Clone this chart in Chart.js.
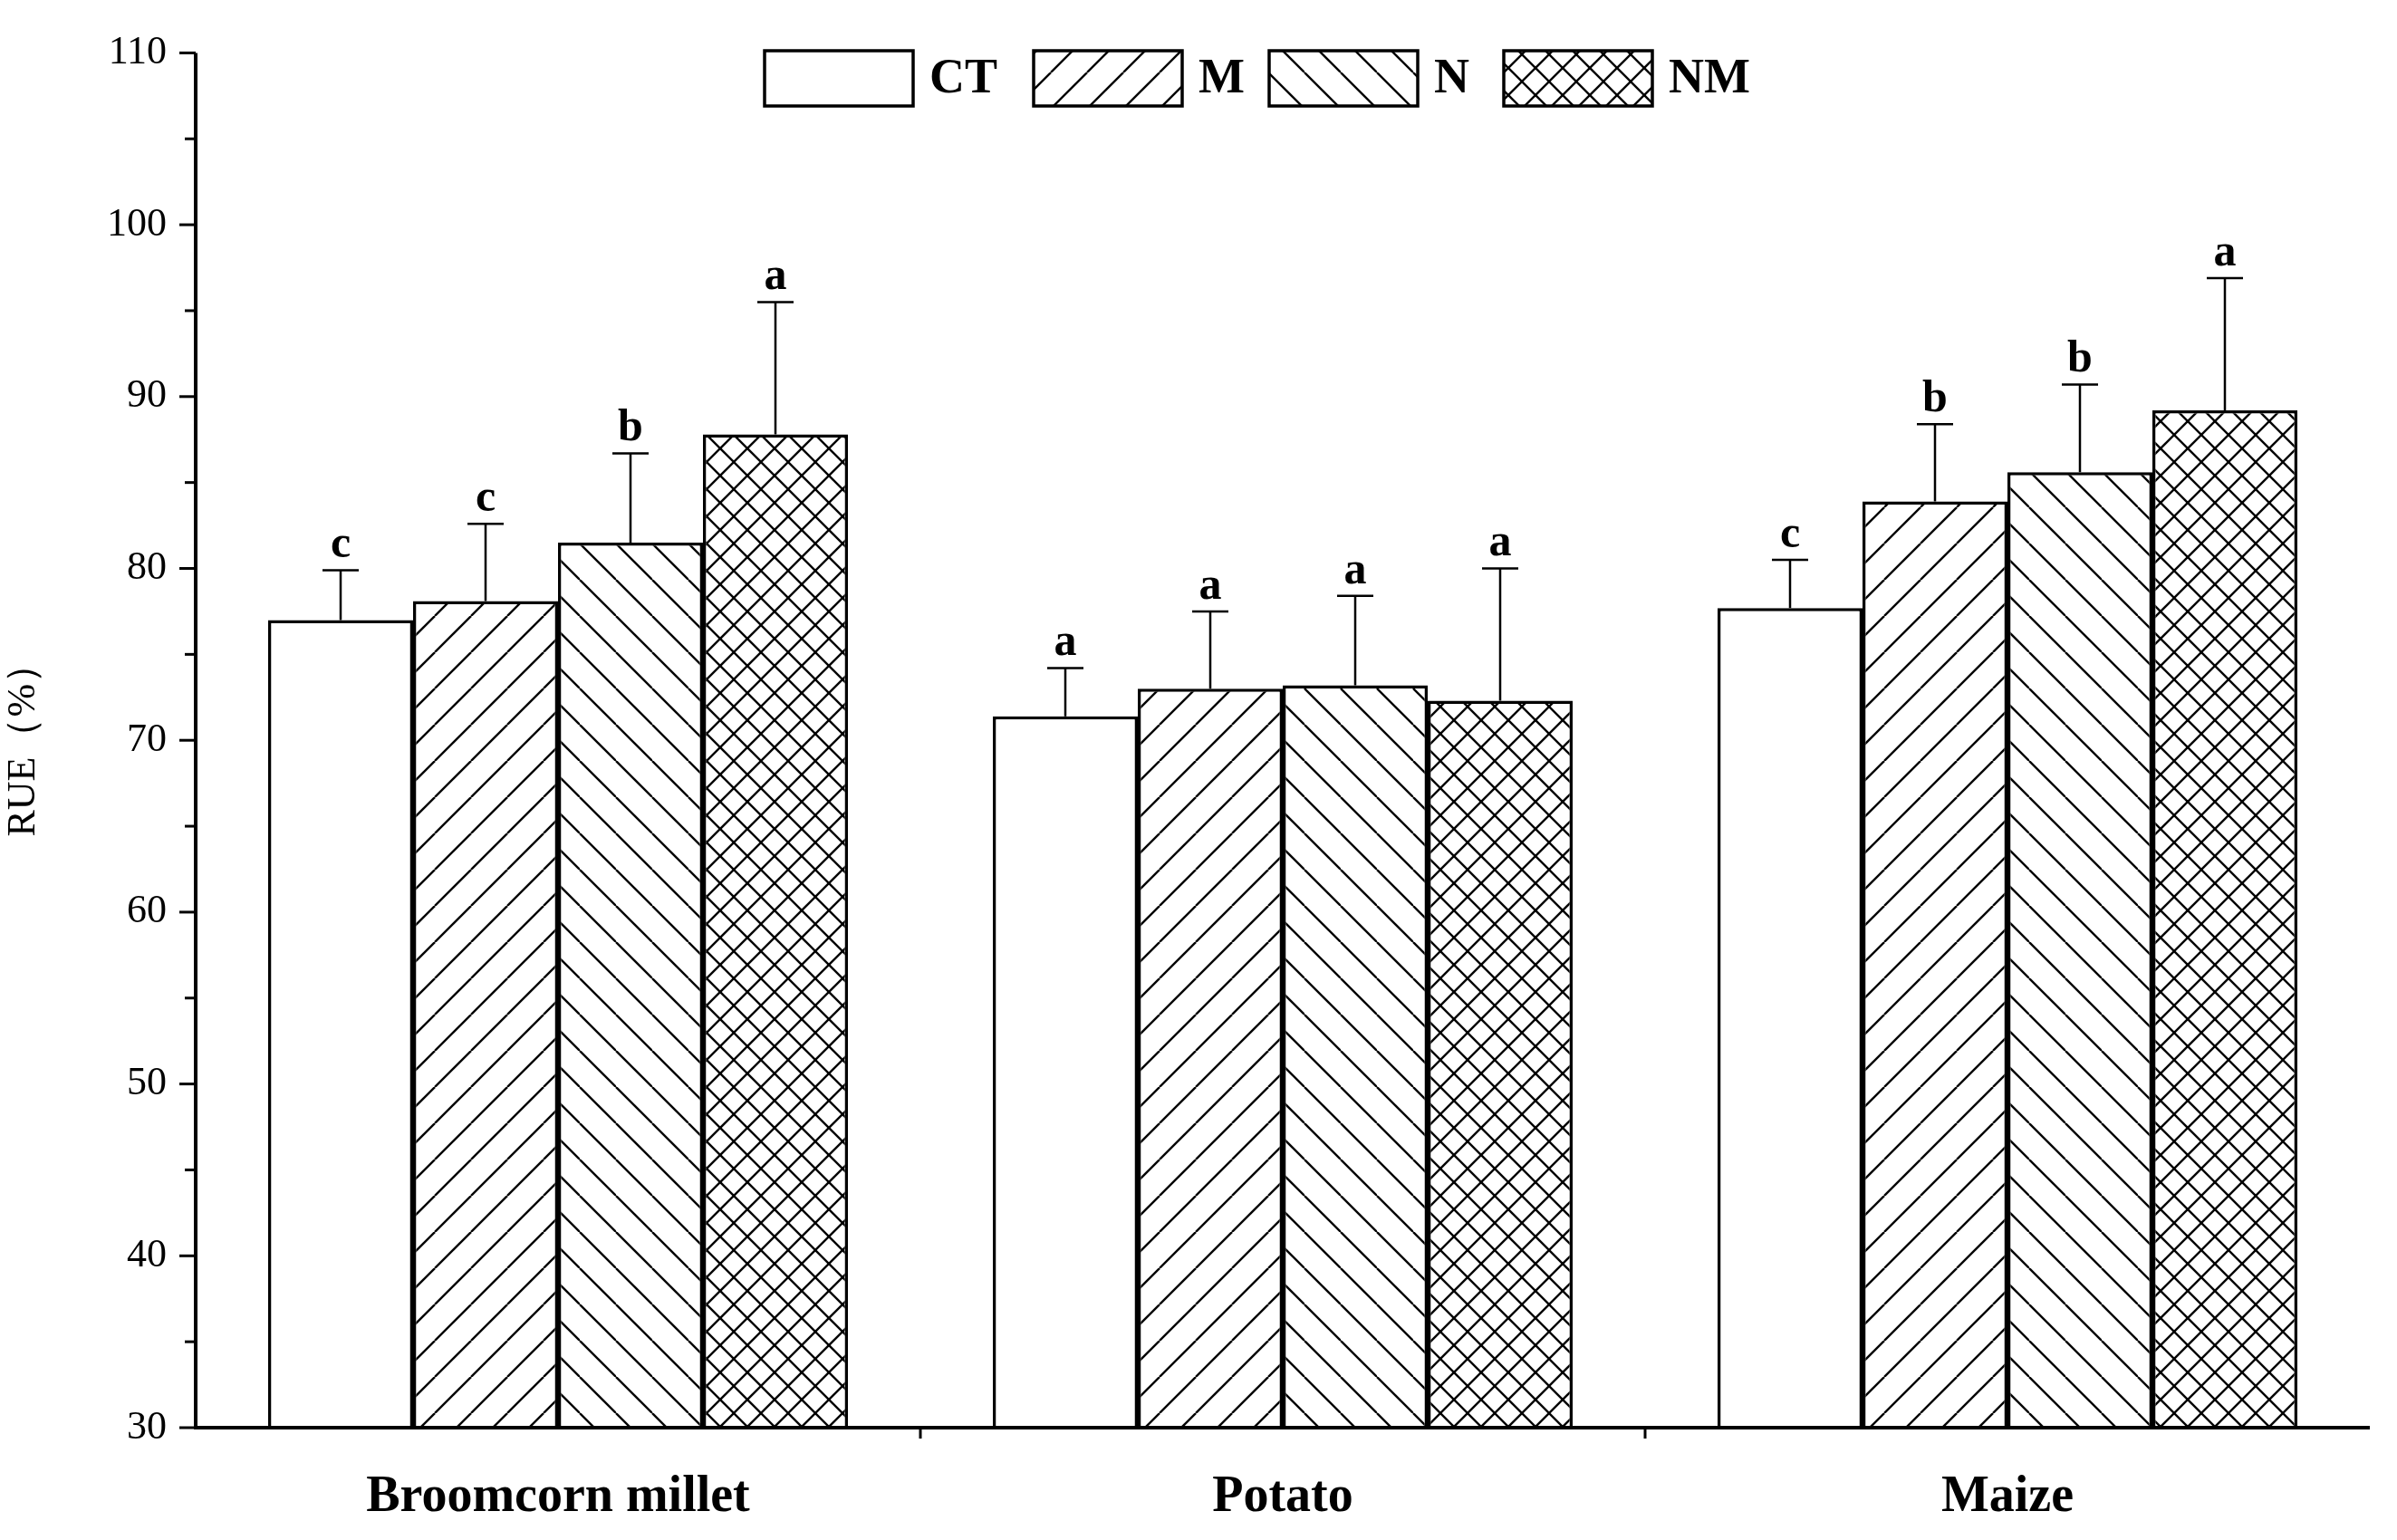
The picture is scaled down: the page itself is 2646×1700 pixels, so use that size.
<!DOCTYPE html>
<html>
<head>
<meta charset="utf-8">
<script src="https://cdn.jsdelivr.net/npm/chart.js@4/dist/chart.umd.min.js"></script>
<style>
  html, body { margin: 0; padding: 0; background: #fff; }
</style>
</head>
<body>
<canvas id="c" width="2646" height="1700"></canvas>
<script>
// Data
const crops = ['Broomcorn millet', 'Potato', 'Maize'];
const treatments = ['CT', 'M', 'N', 'NM'];
const ctValues = [77.0, 71.4, 77.7];
const mValues = [78.1, 73.0, 83.9];
const nValues = [81.5, 73.2, 85.6];
const nmValues = [87.8, 72.3, 89.2];
const ctErrTop = [79.9, 74.2, 80.5];
const mErrTop = [82.6, 77.5, 88.4];
const nErrTop = [86.7, 78.4, 90.7];
const nmErrTop = [95.5, 80.0, 96.9];
const ctLetters = ['c', 'a', 'c'];
const mLetters = ['c', 'a', 'b'];
const nLetters = ['b', 'a', 'b'];
const nmLetters = ['a', 'a', 'a'];
const yTicks = [30, 40, 50, 60, 70, 80, 90, 100, 110];

const FONT = '"Liberation Serif", "DejaVu Serif", serif';

function makePattern(kind) {
    const s = kind === 'x' ? 30 : 40;
    const c = document.createElement('canvas');
    c.width = s; c.height = s;
    const g = c.getContext('2d');
    g.fillStyle = '#fff';
    g.fillRect(0, 0, s, s);
    g.strokeStyle = '#000';
    g.lineWidth = 2.4;
    const fwd = () => {
        for (let k = -1; k <= 1; k++) {
            g.beginPath();
            g.moveTo(k * s, s); g.lineTo(k * s + s, 0);
            g.stroke();
        }
    };
    const back = () => {
        for (let k = -1; k <= 1; k++) {
            g.beginPath();
            g.moveTo(k * s, 0); g.lineTo(k * s + s, s);
            g.stroke();
        }
    };
    if (kind === '/' || kind === 'x') fwd();
    if (kind === '\\' || kind === 'x') back();
    return document.getElementById('c').getContext('2d').createPattern(c, 'repeat');
}

const fills = ['#fff', makePattern('/'), makePattern('\\'), makePattern('x')];
const errTops = [ctErrTop, mErrTop, nErrTop, nmErrTop];
const letters = [ctLetters, mLetters, nLetters, nmLetters];

// error bars, letters, ticks and legend
const decor = {
    id: 'decor',
    afterDatasetsDraw(chart) {
        const ctx = chart.ctx;
        const y = chart.scales.y;
        const area = chart.chartArea;
        ctx.save();
        ctx.strokeStyle = '#000';
        ctx.fillStyle = '#000';
        chart.data.datasets.forEach((ds, di) => {
            const meta = chart.getDatasetMeta(di);
            meta.data.forEach((bar, i) => {
                const top = y.getPixelForValue(errTops[di][i]);
                ctx.lineWidth = 2.5;
                ctx.beginPath();
                ctx.moveTo(bar.x, bar.y);
                ctx.lineTo(bar.x, top);
                ctx.moveTo(bar.x - 20, top);
                ctx.lineTo(bar.x + 20, top);
                ctx.stroke();
                ctx.font = 'bold 50px ' + FONT;
                ctx.textAlign = 'center';
                ctx.textBaseline = 'bottom';
                ctx.fillText(letters[di][i], bar.x, top - 2);
            });
        });
        // axes
        ctx.lineWidth = 4;
        ctx.beginPath();
        ctx.moveTo(area.left, area.top);
        ctx.lineTo(area.left, area.bottom);
        ctx.lineTo(area.right, area.bottom);
        ctx.stroke();
        // y ticks, major and minor
        ctx.lineWidth = 3;
        for (let v = 30; v <= 110; v += 5) {
            const py = y.getPixelForValue(v);
            const len = v % 10 === 0 ? 18 : 12;
            ctx.beginPath();
            ctx.moveTo(area.left - len, py);
            ctx.lineTo(area.left, py);
            ctx.stroke();
        }
        // x ticks at category boundaries
        const step = (area.right - area.left) / crops.length;
        for (let k = 1; k < crops.length; k++) {
            const px = area.left + k * step;
            ctx.beginPath();
            ctx.moveTo(px, area.bottom);
            ctx.lineTo(px, area.bottom + 12);
            ctx.stroke();
        }
        // legend
        const boxX = [844, 1141, 1401, 1660];
        ctx.font = 'bold 54px ' + FONT;
        ctx.textAlign = 'left';
        ctx.textBaseline = 'middle';
        treatments.forEach((t, i) => {
            ctx.fillStyle = fills[i];
            ctx.fillRect(boxX[i], 56, 164, 61);
            ctx.lineWidth = 3.5;
            ctx.strokeRect(boxX[i], 56, 164, 61);
            ctx.fillStyle = '#000';
            ctx.fillText(t, boxX[i] + 182, 88);
        });
        ctx.restore();
    }
};

const seriesValues = [ctValues, mValues, nValues, nmValues];

new Chart(document.getElementById('c'), {
    type: 'bar',
    data: {
        labels: crops,
        datasets: treatments.map((t, i) => ({
            label: t,
            data: seriesValues[i],
            backgroundColor: fills[i],
            borderColor: '#000',
            borderWidth: 3.5,
            borderSkipped: 'bottom',
            categoryPercentage: 0.8,
            barPercentage: 1.0
        }))
    },
    options: {
        responsive: false,
        devicePixelRatio: 1,
        animation: false,
        layout: { padding: { top: 46, right: 30, left: 0, bottom: 0 } },
        plugins: { legend: { display: false }, tooltip: { enabled: false } },
        scales: {
            x: {
                grid: { display: false, drawTicks: false },
                border: { display: false },
                ticks: {
                    color: '#000',
                    padding: 44,
                    font: { family: FONT, size: 56, weight: 'bold' }
                },
                afterFit(s) { s.height = 124; }
            },
            y: {
                min: 30,
                max: 110,
                afterBuildTicks(s) { s.ticks = yTicks.map(v => ({ value: v })); },
                grid: { display: false, drawTicks: false },
                border: { display: false },
                ticks: {
                    color: '#000',
                    padding: 32,
                    font: { family: FONT, size: 44 }
                },
                title: {
                    display: true,
                    text: 'RUE（%）',
                    color: '#000',
                    padding: { top: 0, bottom: 0 },
                    font: { family: FONT, size: 44 }
                },
                afterFit(s) { s.width = 216; }
            }
        }
    },
    plugins: [decor]
});
</script>
</body>
</html>
